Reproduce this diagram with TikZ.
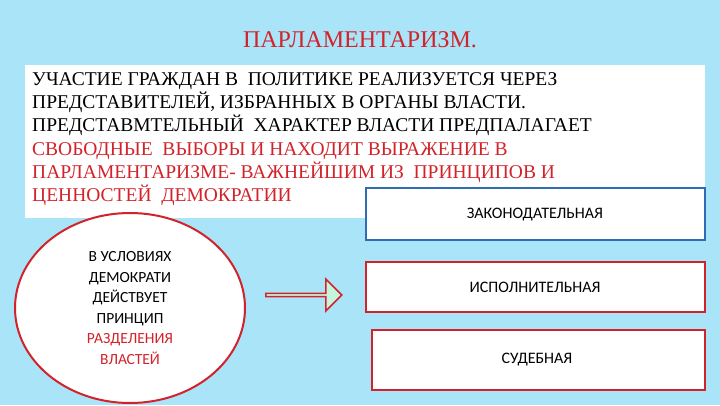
\documentclass[tikz,border=0pt]{standalone}
\usepackage{fontspec}
\setmainfont{Liberation Serif}
\newfontfamily\carl{Carlito}
\usetikzlibrary{shapes.arrows}
\definecolor{bg}{HTML}{A9E4F8}
\definecolor{rd}{HTML}{D2232A}
\definecolor{bl}{HTML}{2E6DB4}
\definecolor{mint}{HTML}{C6F5DD}
\tikzset{ln/.style={anchor=base west,inner sep=0pt,font=\fontsize{19.5}{19.5}\selectfont},
 bx/.style={line width=1.8pt,fill=white},
 bt/.style={font=\carl\fontsize{16}{16}\selectfont}}
\begin{document}
\begin{tikzpicture}[x=1pt,y=-1pt]
\fill[bg] (0,0) rectangle (720,405);
\useasboundingbox (0,0) rectangle (720,405);
\node[rd,font=\fontsize{24}{24}\selectfont] (t) at (360,40) {ПАРЛАМЕНТАРИЗМ.};
\fill[white] (25,65) rectangle (705,218);
\node[ln] (l1) at (32,85) {УЧАСТИЕ ГРАЖДАН В\ \ ПОЛИТИКЕ РЕАЛИЗУЕТСЯ ЧЕРЕЗ};
\node[ln] (l2) at (32,108) {ПРЕДСТАВИТЕЛЕЙ, ИЗБРАННЫХ В ОРГАНЫ ВЛАСТИ.};
\node[ln] (l3) at (32,131) {ПРЕДСТАВМТЕЛЬНЫЙ\ \ ХАРАКТЕР ВЛАСТИ ПРЕДПАЛАГАЕТ};
\node[ln,rd] (l4) at (32,155) {СВОБОДНЫЕ\ \ ВЫБОРЫ И НАХОДИТ ВЫРАЖЕНИЕ В};
\node[ln,rd] (l5) at (32,178) {ПАРЛАМЕНТАРИЗМЕ- ВАЖНЕЙШИМ ИЗ\ \ ПРИНЦИПОВ И};
\node[ln,rd] (l6) at (32,201) {ЦЕННОСТЕЙ\ \ ДЕМОКРАТИИ};
\draw[bx,draw=bl] (366,188) rectangle (705,240);
\node[bt] (z) at (535,215) {ЗАКОНОДАТЕЛЬНАЯ};
\draw[bx,draw=rd] (366,262) rectangle (705,312);
\node[bt] (i) at (535,287) {ИСПОЛНИТЕЛЬНАЯ};
\draw[bx,draw=rd] (372,330) rectangle (705,390);
\node[bt] (s) at (537,360) {СУДЕБНАЯ};
\draw[draw=rd,line width=2pt,fill=white] (130,308) ellipse (115 and 95);
\node[align=center,font=\carl\fontsize{15.5}{20.5}\selectfont] (e) at (130,308)
 {В УСЛОВИЯХ\\ДЕМОКРАТИ\\ДЕЙСТВУЕТ\\ПРИНЦИП\\\textcolor{rd}{РАЗДЕЛЕНИЯ}\\\textcolor{rd}{ВЛАСТЕЙ}};
\node[single arrow,draw=rd,fill=mint,line width=1.5pt,minimum width=32,minimum height=76,
 single arrow head extend=7,inner sep=0pt] (a) at (303,295) {};
\end{tikzpicture}
\end{document}
